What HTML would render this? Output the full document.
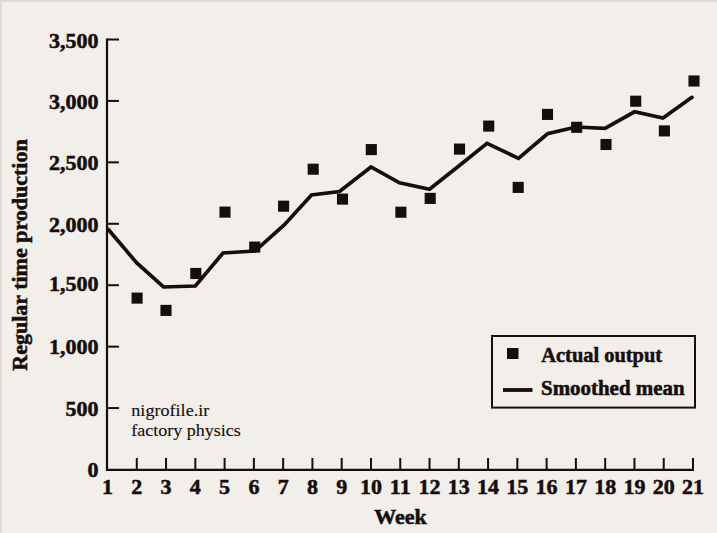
<!DOCTYPE html>
<html><head><meta charset="utf-8"><style>
html,body{margin:0;padding:0;}
body{width:717px;height:533px;overflow:hidden;background:#f2efea;position:relative;}
svg{position:absolute;left:0;top:0;}
.b{font-family:"Liberation Serif",serif;font-weight:bold;fill:#170d0c;stroke:#170d0c;stroke-width:0.55px;}
.r{font-family:"Liberation Serif",serif;fill:#170d0c;stroke:#170d0c;stroke-width:0.12px;}
</style></head><body>
<svg width="717" height="533" viewBox="0 0 717 533">
<rect x="0" y="0" width="717" height="533" fill="#f2efea"/>
<rect x="0" y="0" width="717" height="2" fill="#e2d9d3"/>
<rect x="0" y="2" width="717" height="1" fill="#f4ece6"/>
<rect x="0" y="0" width="2" height="533" fill="#e2d9d3"/>
<rect x="2" y="2" width="1" height="531" fill="#f4ece6"/>

<g stroke="#170d0c" fill="none" stroke-linecap="butt">
<path d="M107 38.4 V469.9 H694" stroke-width="2.2" stroke-linejoin="miter"/>
<path d="M107 408.07 H119" stroke-width="2.0"/>
<path d="M107 346.64 H119" stroke-width="2.0"/>
<path d="M107 285.21 H119" stroke-width="2.0"/>
<path d="M107 223.79 H119" stroke-width="2.0"/>
<path d="M107 162.36 H119" stroke-width="2.0"/>
<path d="M107 100.93 H119" stroke-width="2.0"/>
<path d="M107 39.50 H119" stroke-width="2.0"/>
<path d="M136.78 469.5 V458" stroke-width="2.0"/>
<path d="M166.05 469.5 V458" stroke-width="2.0"/>
<path d="M195.32 469.5 V458" stroke-width="2.0"/>
<path d="M224.60 469.5 V458" stroke-width="2.0"/>
<path d="M253.88 469.5 V458" stroke-width="2.0"/>
<path d="M283.15 469.5 V458" stroke-width="2.0"/>
<path d="M312.42 469.5 V458" stroke-width="2.0"/>
<path d="M341.70 469.5 V458" stroke-width="2.0"/>
<path d="M370.97 469.5 V458" stroke-width="2.0"/>
<path d="M400.25 469.5 V458" stroke-width="2.0"/>
<path d="M429.52 469.5 V458" stroke-width="2.0"/>
<path d="M458.80 469.5 V458" stroke-width="2.0"/>
<path d="M488.07 469.5 V458" stroke-width="2.0"/>
<path d="M517.35 469.5 V458" stroke-width="2.0"/>
<path d="M546.62 469.5 V458" stroke-width="2.0"/>
<path d="M575.90 469.5 V458" stroke-width="2.0"/>
<path d="M605.17 469.5 V458" stroke-width="2.0"/>
<path d="M634.45 469.5 V458" stroke-width="2.0"/>
<path d="M663.73 469.5 V458" stroke-width="2.0"/>
<path d="M693.00 469.5 V458" stroke-width="2.0"/>
</g>
<text class="b" x="98.5" y="477.30" font-size="22" text-anchor="end">0</text>
<text class="b" x="98.5" y="416.37" font-size="22" text-anchor="end">500</text>
<text class="b" x="98.5" y="354.24" font-size="22" text-anchor="end">1,000</text>
<text class="b" x="98.5" y="291.01" font-size="22" text-anchor="end">1,500</text>
<text class="b" x="98.5" y="231.69" font-size="22" text-anchor="end">2,000</text>
<text class="b" x="98.5" y="169.76" font-size="22" text-anchor="end">2,500</text>
<text class="b" x="98.5" y="108.93" font-size="22" text-anchor="end">3,000</text>
<text class="b" x="98.5" y="48.40" font-size="22" text-anchor="end">3,500</text>
<text class="b" x="107.50" y="493.5" font-size="22" text-anchor="middle">1</text>
<text class="b" x="136.78" y="493.5" font-size="22" text-anchor="middle">2</text>
<text class="b" x="166.05" y="493.5" font-size="22" text-anchor="middle">3</text>
<text class="b" x="195.32" y="493.5" font-size="22" text-anchor="middle">4</text>
<text class="b" x="224.60" y="493.5" font-size="22" text-anchor="middle">5</text>
<text class="b" x="253.88" y="493.5" font-size="22" text-anchor="middle">6</text>
<text class="b" x="283.15" y="493.5" font-size="22" text-anchor="middle">7</text>
<text class="b" x="312.42" y="493.5" font-size="22" text-anchor="middle">8</text>
<text class="b" x="341.70" y="493.5" font-size="22" text-anchor="middle">9</text>
<text class="b" x="370.97" y="493.5" font-size="22" text-anchor="middle">10</text>
<text class="b" x="400.25" y="493.5" font-size="22" text-anchor="middle">11</text>
<text class="b" x="429.52" y="493.5" font-size="22" text-anchor="middle">12</text>
<text class="b" x="458.80" y="493.5" font-size="22" text-anchor="middle">13</text>
<text class="b" x="488.07" y="493.5" font-size="22" text-anchor="middle">14</text>
<text class="b" x="517.35" y="493.5" font-size="22" text-anchor="middle">15</text>
<text class="b" x="546.62" y="493.5" font-size="22" text-anchor="middle">16</text>
<text class="b" x="575.90" y="493.5" font-size="22" text-anchor="middle">17</text>
<text class="b" x="605.17" y="493.5" font-size="22" text-anchor="middle">18</text>
<text class="b" x="634.45" y="493.5" font-size="22" text-anchor="middle">19</text>
<text class="b" x="663.73" y="493.5" font-size="22" text-anchor="middle">20</text>
<text class="b" x="693.00" y="493.5" font-size="22" text-anchor="middle">21</text>
<text class="b" x="400.5" y="523.8" font-size="22" text-anchor="middle">Week</text>
<text class="b" x="0" y="0" font-size="22" text-anchor="middle" transform="translate(26.5 255) rotate(-90)">Regular time production</text>
<text class="r" x="131.3" y="416" font-size="16.5" textLength="78" lengthAdjust="spacingAndGlyphs">nigrofile.ir</text>
<text class="r" x="131.3" y="436.4" font-size="16.5" textLength="109.5" lengthAdjust="spacingAndGlyphs">factory physics</text>
<polyline points="107.5,228.5 136.8,263 163.5,287 195.3,286 223,253 255,251 284.2,225 311.5,195 339.5,191.5 371,167 399.5,182.8 429.5,189.3 458.8,166 487,143.4 518.5,158.3 547.5,133.8 576,127 605,128.3 634.5,111.8 663,118 692,97.3" fill="none" stroke="#170d0c" stroke-width="3.7" stroke-linejoin="miter" stroke-linecap="butt"/>
<circle cx="692" cy="97.3" r="1.85" fill="#170d0c"/>
<rect x="131.55" y="292.55" width="11.1" height="11.1" fill="#170d0c"/>
<rect x="160.45" y="304.85" width="11.1" height="11.1" fill="#170d0c"/>
<rect x="190.25" y="267.95" width="11.1" height="11.1" fill="#170d0c"/>
<rect x="219.45" y="206.55" width="11.1" height="11.1" fill="#170d0c"/>
<rect x="249.15" y="241.55" width="11.1" height="11.1" fill="#170d0c"/>
<rect x="278.05" y="200.65" width="11.1" height="11.1" fill="#170d0c"/>
<rect x="307.65" y="163.65" width="11.1" height="11.1" fill="#170d0c"/>
<rect x="336.95" y="193.55" width="11.1" height="11.1" fill="#170d0c"/>
<rect x="365.75" y="144.05" width="11.1" height="11.1" fill="#170d0c"/>
<rect x="395.35" y="206.65" width="11.1" height="11.1" fill="#170d0c"/>
<rect x="424.65" y="192.85" width="11.1" height="11.1" fill="#170d0c"/>
<rect x="453.95" y="143.55" width="11.1" height="11.1" fill="#170d0c"/>
<rect x="483.15" y="120.55" width="11.1" height="11.1" fill="#170d0c"/>
<rect x="512.65" y="181.85" width="11.1" height="11.1" fill="#170d0c"/>
<rect x="541.95" y="108.85" width="11.1" height="11.1" fill="#170d0c"/>
<rect x="571.15" y="121.75" width="11.1" height="11.1" fill="#170d0c"/>
<rect x="600.45" y="138.95" width="11.1" height="11.1" fill="#170d0c"/>
<rect x="630.15" y="95.65" width="11.1" height="11.1" fill="#170d0c"/>
<rect x="658.85" y="125.35" width="11.1" height="11.1" fill="#170d0c"/>
<rect x="688.45" y="75.45" width="11.1" height="11.1" fill="#170d0c"/>
<rect x="492" y="336" width="203" height="71.6" fill="none" stroke="#170d0c" stroke-width="2.0"/>
<rect x="507" y="348" width="11.5" height="11" fill="#170d0c"/>
<path d="M503 390 H532.5" stroke="#170d0c" stroke-width="3.8"/>
<text class="b" x="541.3" y="362" font-size="21" textLength="120.8" lengthAdjust="spacingAndGlyphs">Actual output</text>
<text class="b" x="541" y="395" font-size="21" textLength="143.6" lengthAdjust="spacingAndGlyphs">Smoothed mean</text>
</svg></body></html>
